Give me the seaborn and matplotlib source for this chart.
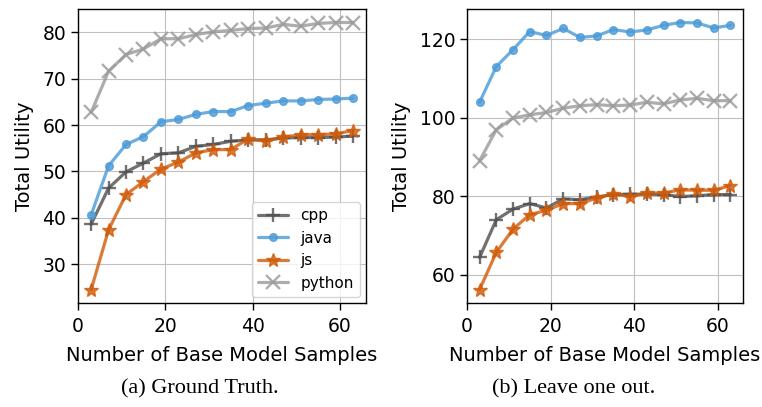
import matplotlib
matplotlib.use("Agg")
import matplotlib.pyplot as plt
import seaborn as sns
import pandas as pd

samples = [3, 7, 11, 15, 19, 23, 27, 31, 35, 39, 43, 47, 51, 55, 59, 63]
languages = ["cpp", "java", "js", "python"]

gt_cpp = [38.6, 46.4, 49.9, 51.8, 53.8, 54.0, 55.4, 55.8, 56.5, 56.8, 56.8, 57.2, 57.3, 57.3, 57.4, 57.6]
gt_java = [40.6, 51.2, 55.8, 57.5, 60.7, 61.2, 62.3, 62.9, 62.9, 64.2, 64.7, 65.2, 65.2, 65.5, 65.6, 65.8]
gt_js = [24.5, 37.4, 45.0, 47.8, 50.5, 52.0, 54.0, 54.7, 54.7, 57.0, 56.5, 57.4, 57.9, 57.9, 58.1, 58.8]
gt_python = [62.7, 71.6, 75.2, 76.4, 78.6, 78.6, 79.5, 80.1, 80.4, 80.8, 80.9, 81.7, 81.3, 81.9, 82.1, 82.1]

loo_cpp = [64.4, 74.0, 76.7, 78.1, 77.0, 79.3, 79.1, 79.8, 80.4, 80.5, 80.5, 80.4, 79.9, 80.1, 80.4, 80.4]
loo_java = [103.9, 113.0, 117.3, 121.9, 120.9, 122.7, 120.4, 120.8, 122.4, 121.8, 122.3, 123.5, 124.2, 124.1, 122.8, 123.5]
loo_js = [56.2, 65.7, 71.6, 75.3, 76.4, 78.1, 78.1, 79.5, 80.6, 79.9, 80.8, 80.8, 81.6, 81.5, 81.5, 82.7]
loo_python = [89.0, 96.9, 99.9, 100.7, 101.3, 102.4, 103.0, 103.3, 103.0, 103.2, 103.9, 103.5, 104.5, 104.9, 104.3, 104.3]

captions = ["(a) Ground Truth.", "(b) Leave one out."]
xlabel = "Number of Base Model Samples"
ylabel = "Total Utility"


def make_df(series):
    rows = []
    for lang, vals in zip(languages, series):
        for s, v in zip(samples, vals):
            rows.append({"samples": s, "utility": v, "language": lang})
    return pd.DataFrame(rows)


df_gt = make_df([gt_cpp, gt_java, gt_js, gt_python])
df_loo = make_df([loo_cpp, loo_java, loo_js, loo_python])

sns.set_style("whitegrid", {"axes.edgecolor": "black", "grid.color": "#c0c0c0",
                            "xtick.bottom": True, "ytick.left": True,
                            "text.color": "black", "axes.labelcolor": "black",
                            "xtick.color": "black", "ytick.color": "black"})
plt.rcParams["font.family"] = ["DejaVu Sans"]
plt.rcParams["xtick.labelsize"] = 13.5
plt.rcParams["ytick.labelsize"] = 13.5
plt.rcParams["axes.labelsize"] = 14

palette = {"cpp": "#4d4d4d", "java": "#4a9ad8", "js": "#d05a08", "python": "#999999"}
mk = {"cpp": "+", "java": ".", "js": "*", "python": "x"}

fig = plt.figure(figsize=(7.62, 4.07), dpi=100)
ax1 = fig.add_axes([0.1024, 0.2555, 0.378, 0.722])
ax2 = fig.add_axes([0.6129, 0.2555, 0.3622, 0.722])

for ax, df in [(ax1, df_gt), (ax2, df_loo)]:
    for lang in languages:
        sub = df[df["language"] == lang]
        sns.lineplot(data=sub, x="samples", y="utility", ax=ax, color=palette[lang],
                     marker=mk[lang], markersize=10 if lang != "java" else 11,
                     markeredgewidth=1.7 if lang in ("cpp", "python") else 1,
                     markeredgecolor=palette[lang],
                     linewidth=2.3, alpha=0.8, label=lang, legend=True)
    ax.set_xlabel(xlabel, labelpad=7)
    ax.set_ylabel(ylabel, labelpad=6)
    ax.set_xticks([0, 20, 40, 60])
    for s in ax.spines.values():
        s.set_linewidth(1.0)
    ax.tick_params(axis="both", length=5, width=1, color="black", direction="out")
    ax.tick_params(axis="x", pad=5)

ax1.set_yticks([30, 40, 50, 60, 70, 80])
ax2.set_yticks([60, 80, 100, 120])
ax2.get_legend().remove()
ax1.legend(loc="lower right", fontsize=11, framealpha=0.8, handlelength=2.0,
           borderaxespad=0.4)

fig.text(0.262, 0.045, captions[0], ha="center", va="center",
         fontsize=16, family=["Liberation Serif"])
fig.text(0.753, 0.045, captions[1], ha="center", va="center",
         fontsize=16, family=["Liberation Serif"])

fig.savefig("out.png", dpi=100)
